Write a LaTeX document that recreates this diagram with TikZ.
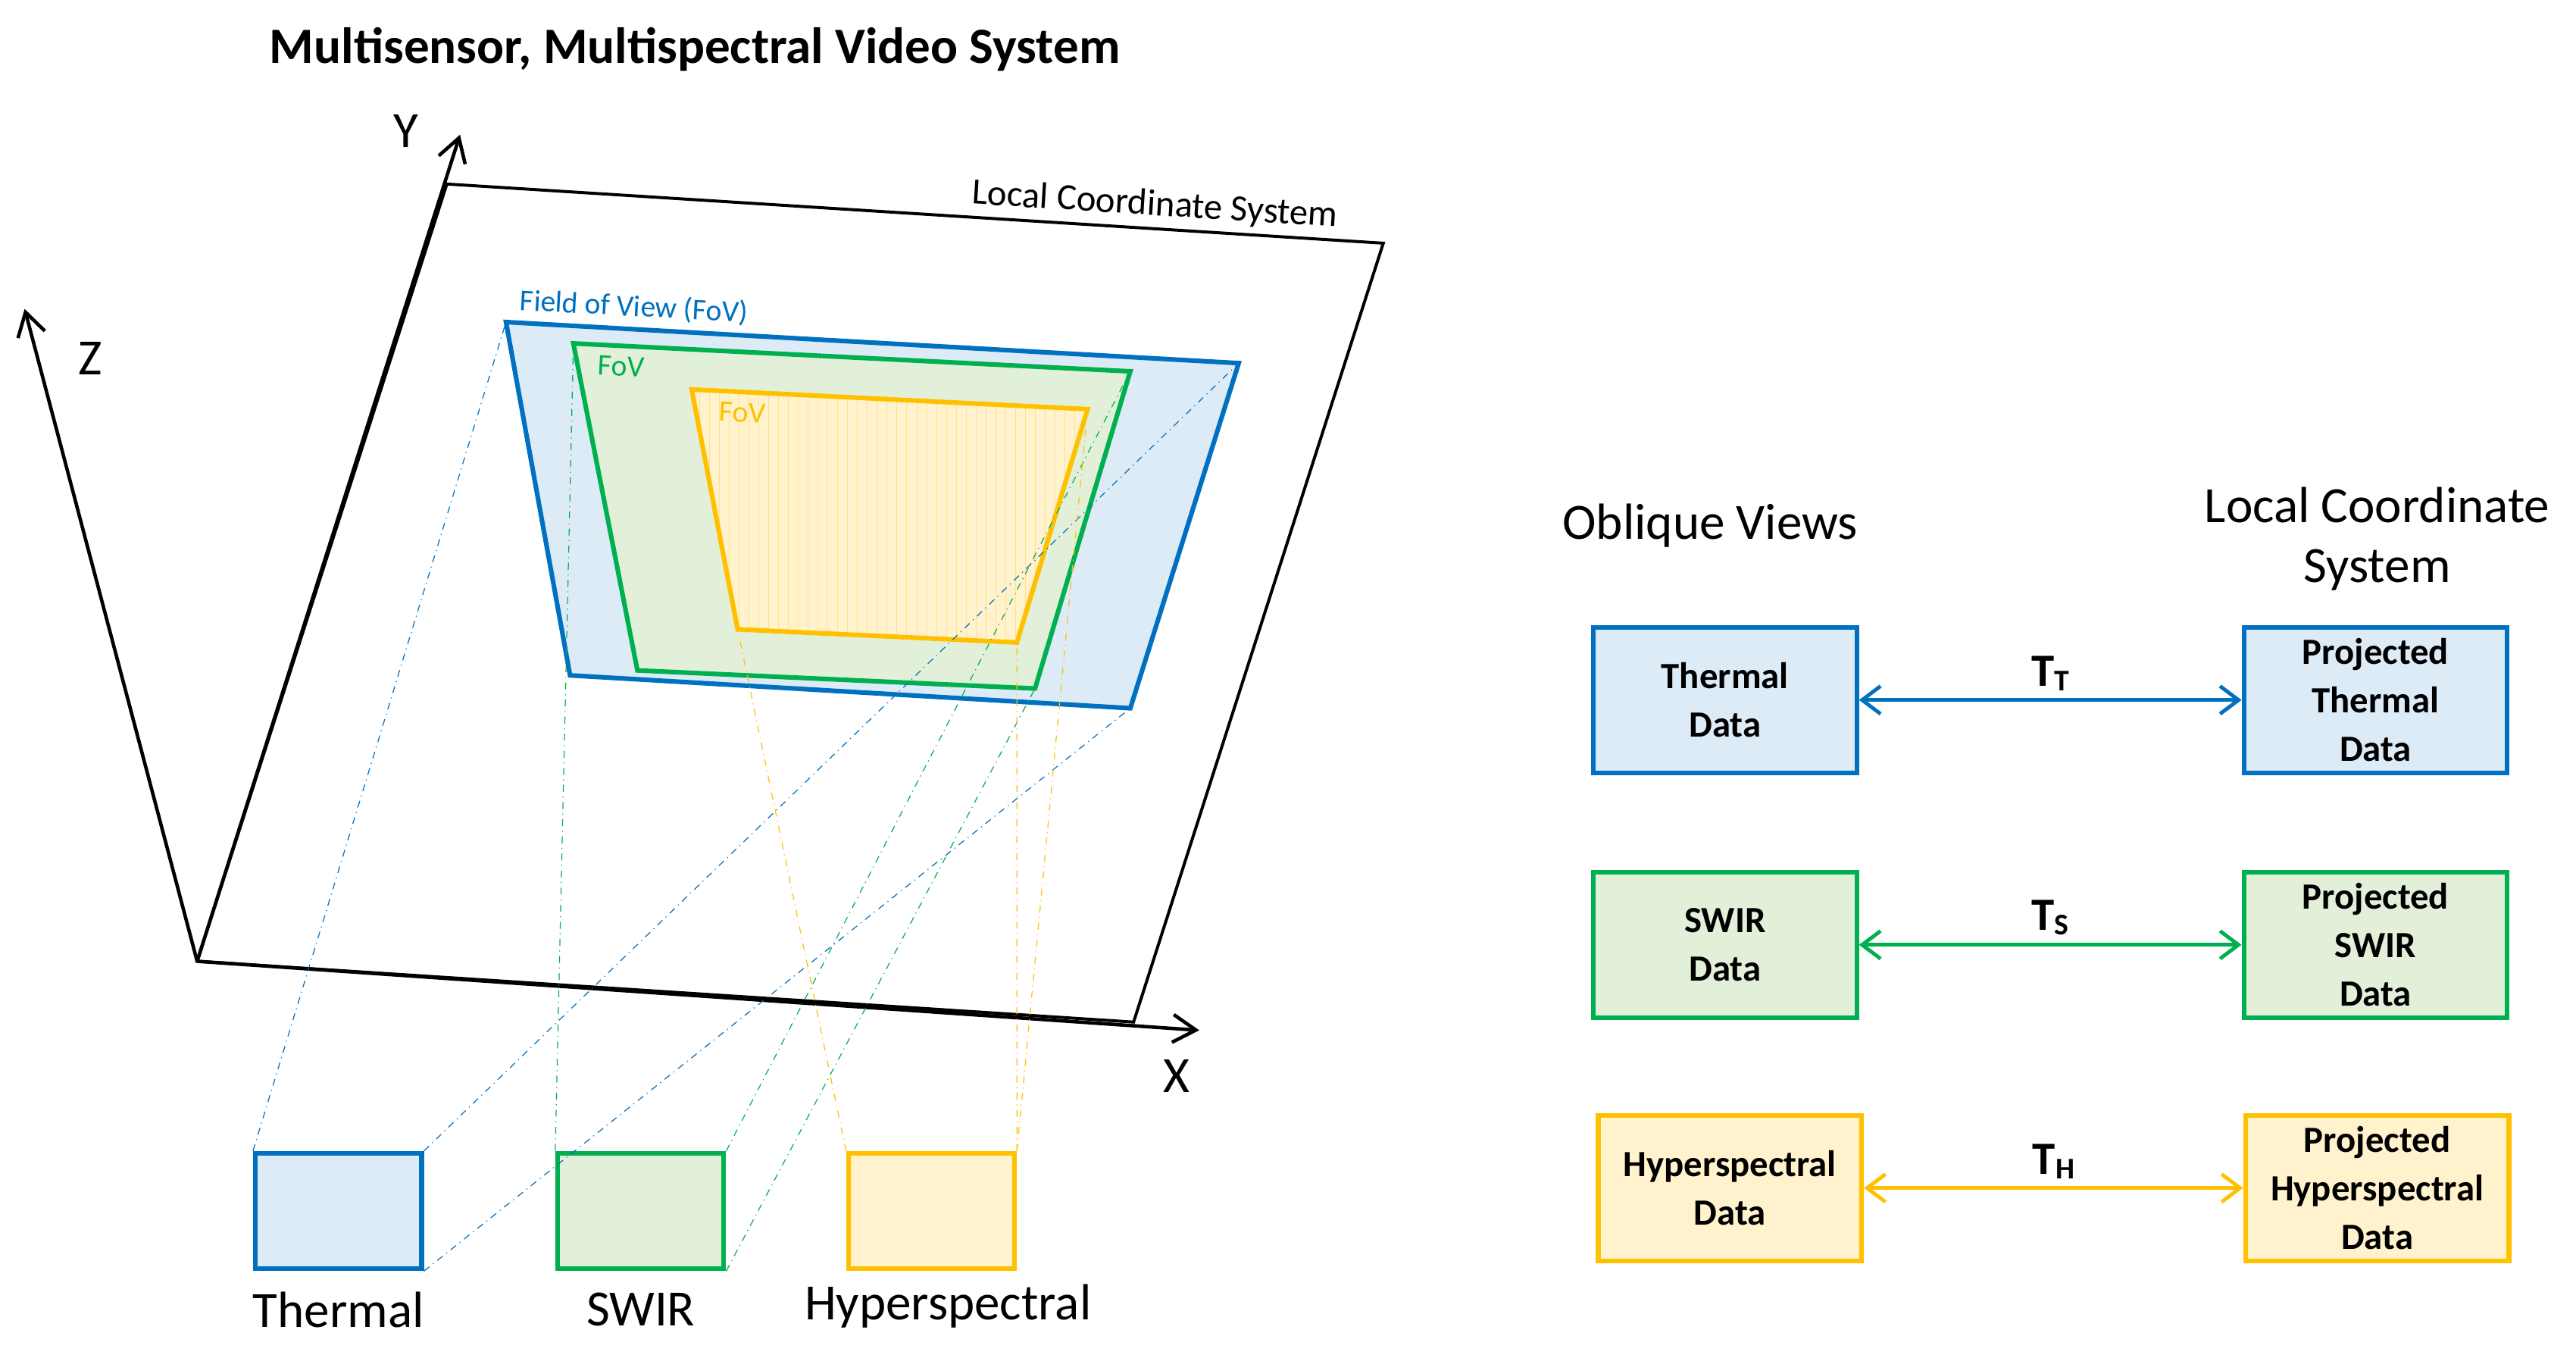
\documentclass[tikz,border=0pt]{standalone}
\usepackage{fontspec}
\setmainfont{Carlito}
\usepackage{tikz}
\usetikzlibrary{arrows.meta}
\definecolor{thermalLine}{RGB}{0,112,192}
\definecolor{thermalFill}{RGB}{221,235,247}
\definecolor{swirLine}{RGB}{0,176,80}
\definecolor{swirFill}{RGB}{226,240,217}
\definecolor{hyperLine}{RGB}{255,192,0}
\definecolor{hyperFill}{RGB}{255,242,204}
\tikzset{
  data box/.style={draw=#1Line,fill=#1Fill,line width=2pt,minimum width=114pt,
    minimum height=63pt,align=center,font=\fontsize{16}{21}\selectfont\bfseries},
  sensor box/.style={draw=#1Line,fill=#1Fill,line width=2pt,minimum width=72pt,
    minimum height=50pt},
  view ray/.style={draw=#1Line,thin,dash dot},
  transform/.style={#1Line,line width=1.6pt,{Straight Barb[length=8pt,width=12pt]}-{Straight Barb[length=8pt,width=12pt]}},
  axis/.style={line width=1.5pt,-{Straight Barb[length=10pt,width=12pt]}},
}
\newcommand{\tlabel}[1]{T\raisebox{-2pt}{\fontsize{13}{13}\selectfont #1}}
\begin{document}
\begin{tikzpicture}[x=0.025cm,y=-0.025cm]
\useasboundingbox (0,0) rectangle (1568,826);
% title
\node[font=\fontsize{22}{26}\selectfont\bfseries] (title) at (423,30) {Multisensor, Multispectral Video System};
% local plane and axes
\coordinate (o) at (120,585);
\draw[line width=1.3pt] (272,112) -- (842,148) -- (690,622) -- (o) -- cycle;
\draw[axis] (o) -- (280,82);
\draw[axis] (o) -- (15,188);
\draw[axis] (o) -- (730,627);
\node[font=\fontsize{22}{26}\selectfont] (ylab) at (247,80) {Y};
\node[font=\fontsize{22}{26}\selectfont] (zlab) at (55,218) {Z};
\node[font=\fontsize{22}{26}\selectfont] (xlab) at (716,655) {X};
\node[font=\fontsize{16}{20}\selectfont,rotate=-3.6] (plane) at (703,125) {Local Coordinate System};
% fields of view
\draw[thermalLine,fill=thermalFill,line width=2pt] (308,196) coordinate (b1) -- (754,221) coordinate (b2)
  -- (688,431) coordinate (b3) -- (347,411) coordinate (b4) -- cycle;
\draw[swirLine,fill=swirFill,line width=2pt] (349,209) coordinate (g1) -- (688,226) coordinate (g2)
  -- (630,419) coordinate (g3) -- (388,408) coordinate (g4) -- cycle;
\fill[hyperFill] (421,237) coordinate (h1) -- (662,249) coordinate (h2)
  -- (619,391) coordinate (h3) -- (449,383) coordinate (h4) -- cycle;
\begin{scope}
  \clip (h1) -- (h2) -- (h3) -- (h4) -- cycle;
  \draw[hyperLine!45,line width=0.3pt] (400,230) grid[step=6] (680,400);
\end{scope}
\draw[hyperLine,line width=2pt] (h1) -- (h2) -- (h3) -- (h4) -- cycle;
\node[thermalLine,font=\fontsize{13}{15}\selectfont,rotate=-3] (fovT) at (386,187) {Field of View (FoV)};
\node[swirLine,font=\fontsize{13}{15}\selectfont,rotate=-3] (fovS) at (378,223) {FoV};
\node[hyperLine,font=\fontsize{13}{15}\selectfont,rotate=-3] (fovH) at (452,251) {FoV};
% sensors
\node[sensor box=thermal] (thermal) at (206,737) {};
\node[sensor box=swir] (swir) at (390,737) {};
\node[sensor box=hyper] (hyper) at (567,737) {};
\node[font=\fontsize{22}{26}\selectfont] (thermalLab) at (206,797) {Thermal};
\node[font=\fontsize{22}{26}\selectfont] (swirLab) at (390,797) {SWIR};
\node[font=\fontsize{22}{26}\selectfont] (hyperLab) at (577,795) {Hyperspectral};
% viewing rays
\draw[view ray=thermal] (thermal.north west) -- (b1);
\draw[view ray=thermal] (thermal.north east) -- (b2);
\draw[view ray=thermal] (thermal.south east) -- (b3);
\draw[view ray=swir] (swir.north west) -- (g1);
\draw[view ray=swir] (swir.north east) -- (g2);
\draw[view ray=swir] (swir.south east) -- (g3);
\draw[view ray=hyper] (hyper.north west) -- (h4);
\draw[view ray=hyper] (hyper.north east) -- (h3);
\draw[view ray=hyper] (hyper.north east) -- (h2);
% transformations
\node[font=\fontsize{22}{26}\selectfont] (oblique) at (1041,320) {Oblique Views};
\node[font=\fontsize{22}{26}\selectfont,align=center] (localcs) at (1447,328) {Local Coordinate\\System};
\node[data box=thermal] (dT) at (1050,426) {Thermal\\Data};
\node[data box=thermal] (pT) at (1446,426) {Projected\\Thermal\\Data};
\node[data box=swir] (dS) at (1050,575) {SWIR\\Data};
\node[data box=swir] (pS) at (1446,575) {Projected\\SWIR\\Data};
\node[data box=hyper] (dH) at (1053,723) {Hyperspectral\\Data};
\node[data box=hyper] (pH) at (1447,723) {Projected\\Hyperspectral\\Data};
\draw[transform=thermal] (dT) -- node[above,black,font=\fontsize{20}{24}\selectfont\bfseries] (tT) {\tlabel{T}} (pT);
\draw[transform=swir] (dS) -- node[above,black,font=\fontsize{20}{24}\selectfont\bfseries] (tS) {\tlabel{S}} (pS);
\draw[transform=hyper] (dH) -- node[above,black,font=\fontsize{20}{24}\selectfont\bfseries] (tH) {\tlabel{H}} (pH);
\end{tikzpicture}
\end{document}
